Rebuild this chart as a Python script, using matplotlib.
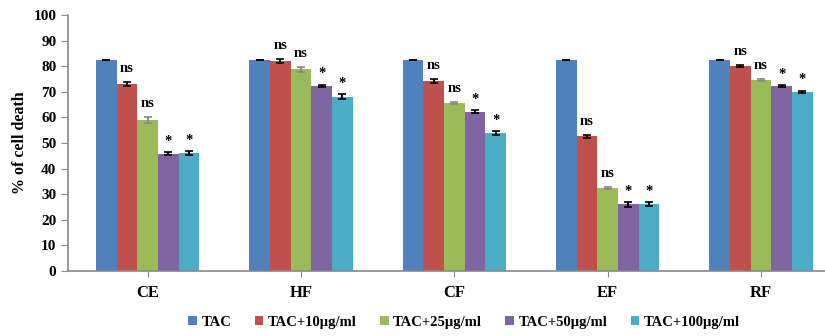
import matplotlib
matplotlib.use("Agg")
import matplotlib.pyplot as plt
import numpy as np

plt.rcParams['font.family'] = ['Liberation Serif', 'DejaVu Serif']
plt.rcParams['font.weight'] = 'bold'

categories = ['CE', 'HF', 'CF', 'EF', 'RF']
series = ['TAC', 'TAC+10µg/ml', 'TAC+25µg/ml', 'TAC+50µg/ml', 'TAC+100µg/ml']
colors = ['#4F81BD', '#C0504D', '#9BBB59', '#8064A2', '#4BACC6']

values = [
    [82.4, 82.4, 82.4, 82.4, 82.4],   # TAC
    [73.0, 82.0, 74.2, 52.6, 80.0],   # +10
    [59.0, 78.8, 65.6, 32.4, 74.6],   # +25
    [45.8, 72.3, 62.2, 26.0, 72.2],   # +50
    [46.0, 68.1, 54.0, 26.0, 70.0],   # +100
]
errors = [
    [0.0, 0.0, 0.0, 0.0, 0.0],
    [0.8, 0.8, 0.8, 0.6, 0.5],
    [1.0, 1.0, 0.5, 0.4, 0.3],
    [0.5, 0.5, 0.5, 1.0, 0.5],
    [0.8, 1.0, 0.7, 0.8, 0.5],
]
marks = ['', 'ns', 'ns', '*', '*']

fig = plt.figure(figsize=(8.25, 3.36), dpi=100)
ax = fig.add_axes([68.3 / 825, 65 / 336, (825 - 68.3) / 825, 256 / 336])

x = np.arange(len(categories))
w = 0.135
for i, (name, col) in enumerate(zip(series, colors)):
    pos = x + (i - 2) * w
    ecol = '#888888' if i == 2 else 'black'
    ax.bar(pos, values[i], w, color=col, label=name, zorder=2,
           yerr=errors[i], error_kw=dict(ecolor=ecol, elinewidth=1.5, capsize=3, capthick=1.2))
    if marks[i]:
        off = 5 if marks[i] == 'ns' else 3
        for p, v, e in zip(pos, values[i], errors[i]):
            ax.annotate(marks[i], (p, v + e), xytext=(0, off), textcoords='offset points',
                        ha='center', va='bottom', fontsize=10.5, fontweight='bold')

ax.set_xlim(-0.518, 4.418)
ax.set_ylim(0, 100)
ax.set_yticks(np.arange(0, 101, 10))
ax.set_xticks(x)
ax.set_xticklabels(categories, fontsize=12, fontweight='bold')
ax.tick_params(axis='y', labelsize=11, length=5, color='#888888')
ax.tick_params(axis='x', length=4, color='#888888', pad=6)
ax.set_ylabel('% of cell death', fontsize=11.5, fontweight='bold')
for s in ['top', 'right']:
    ax.spines[s].set_visible(False)
for s in ['left', 'bottom']:
    ax.spines[s].set_color('#888888')
    ax.spines[s].set_linewidth(1.2)

ax.legend(loc='center', bbox_to_anchor=(0.523, -0.2), ncol=5, frameon=False,
          fontsize=10.5, handlelength=0.6, handleheight=0.6, handletextpad=0.3,
          columnspacing=1.6)

fig.savefig('out.png', dpi=100)
